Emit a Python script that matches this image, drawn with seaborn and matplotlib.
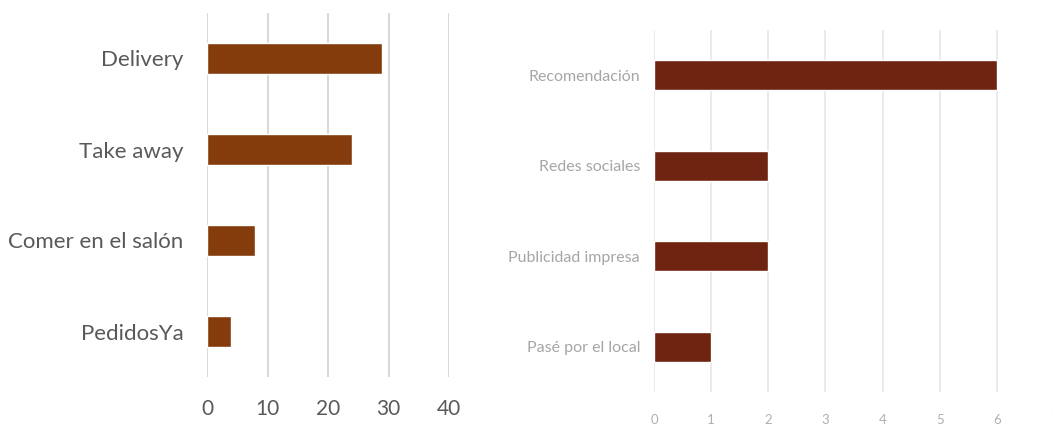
import matplotlib
matplotlib.use("Agg")
import matplotlib.pyplot as plt
import seaborn as sns
import pandas as pd

# Preferred ordering channel
canales = ["Delivery", "Take away", "Comer en el salón", "PedidosYa"]
canales_valores = [29, 24, 8, 4]
canales_ticks = [0, 10, 20, 30, 40]

# How customers found the place
fuentes = ["Recomendación", "Redes sociales", "Publicidad impresa", "Pasé por el local"]
fuentes_valores = [6, 2, 2, 1]
fuentes_ticks = [0, 1, 2, 3, 4, 5, 6, 7]

sns.set_theme(style="white")
plt.rcParams["font.family"] = ["Lato", "DejaVu Sans"]

W, H = 1052, 428
fig = plt.figure(figsize=(W / 100, H / 100), dpi=100)
fig.patch.set_facecolor("white")


def px_axes(x0, x1, y0, y1):
    return fig.add_axes([x0 / W, 1 - y1 / H, (x1 - x0) / W, (y1 - y0) / H])


def style(ax, ticks, grid_color, grid_lw, lab_color, lab_size, tick_color, tick_size, ypad, xpad):
    ax.set_xlim(ticks[0], ticks[-1])
    ax.set_ylim(3.5, -0.5)
    ax.set_xticks(ticks)
    ax.set_xlabel("")
    ax.set_ylabel("")
    for s in ax.spines.values():
        s.set_visible(False)
    ax.set_axisbelow(True)
    ax.grid(axis="x", color=grid_color, linewidth=grid_lw)
    ax.grid(axis="y", visible=False)
    ax.tick_params(axis="y", length=0, pad=ypad, labelsize=lab_size, labelcolor=lab_color)
    ax.tick_params(axis="x", length=0, pad=xpad, labelsize=tick_size, labelcolor=tick_color)


# Left chart
ax1 = px_axes(207, 449, 13, 377)
df1 = pd.DataFrame({"canal": canales, "valor": canales_valores})
sns.barplot(data=df1, x="valor", y="canal", orient="h", width=0.34,
            color="#843C0C", saturation=1, ax=ax1)
style(ax1, canales_ticks, "#D9D9D9", 1.5, "#595959", 16, "#595959", 15, 17, 16)

# Right chart
ax2 = px_axes(654, 1054, 30, 392)
df2 = pd.DataFrame({"fuente": fuentes, "valor": fuentes_valores})
sns.barplot(data=df2, x="valor", y="fuente", orient="h", width=0.33,
            color="#6E2410", saturation=1, ax=ax2)
style(ax2, fuentes_ticks, "#E6E6E6", 1.2, "#A6A6A6", 11.5, "#B0B0B0", 9.5, 10, 16)

fig.savefig("out.png", dpi=100, facecolor="white")
